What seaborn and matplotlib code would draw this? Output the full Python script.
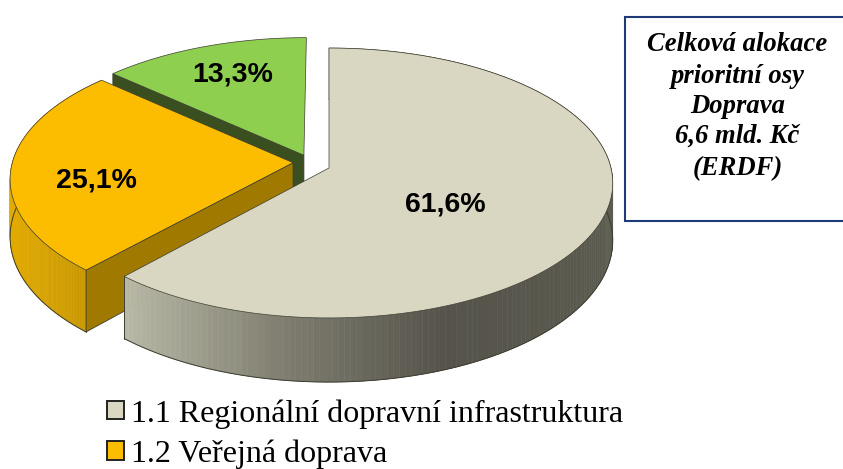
import numpy as np
import matplotlib.pyplot as plt
from matplotlib.patches import Patch, Rectangle
import seaborn as sns

# values
labels = ["1.1 Regionální dopravní infrastruktura", "1.2 Veřejná doprava", "1.3 Ostatní"]
shares = [61.6, 25.1, 13.3]
top_colors = ["#d9d6c2", "#fcbc00", "#8fcf50"]
cut_colors = ["#8f8d7c", "#a07a00", "#3a4f20"]
wall_stops = [["#b8b8a6", "#7e7d6f", "#55534a", "#5c5b50"],
              ["#e2ab00", "#c99800"],
              ["#3a4f20", "#3a4f20"]]
box_text = "Celková alokace\nprioritní osy\nDoprava\n6,6 mld. Kč\n(ERDF)"

sns.set_theme(style="white")

fig = plt.figure(figsize=(8.43, 4.69), dpi=100)
ax = fig.add_axes([0, 0, 1, 1])
ax.set_xlim(0, 843)
ax.set_ylim(469, 0)
ax.axis("off")

# perspective of the pie plane, pixels
cx, cy = 329, 168
rx, ry, persp, depth = 282, 133.3, 0.111, 57
# how far each slice is pulled out of the pie (u, v in the plane)
offsets = [(0, 0), (-0.128, -0.04), (-0.09, -0.097)]


def project(u, v):
    den = 1 - persp * v
    return cx + rx * u / den, cy + ry * v / den


def wall_height(v):
    return depth / (1 - persp * v)


def draw_slice(i, start, end):
    du, dv = offsets[i]
    th = np.radians(np.linspace(start, end, 200))
    u = np.sin(th) + du
    v = -np.cos(th) + dv
    x, y = project(u, v)
    ax0, ay0 = project(du, dv)
    h = wall_height(v)
    edge = "#3c3c30"
    base = i * -10

    # outer wall, shaded left to right (the green slice faces away)
    if i != 2:
        pal = sns.blend_palette(wall_stops[i], 100)
        left, right = x.min(), x.max()
        if i == 1:
            right = x[0]
        for k in range(len(th) - 1):
            frac = (x[k] - left) / (right - left)
            col = pal[int(np.clip(frac, 0, 0.999) * 100)]
            ax.fill([x[k], x[k + 1], x[k + 1], x[k]],
                    [y[k], y[k + 1], y[k + 1] + h[k + 1], y[k] + h[k]],
                    color=col, lw=0.4, zorder=base + 1)
        ax.plot(x, y + h, color=edge, lw=0.7, zorder=base + 2)
        # the visible corner of the wall: start of orange, end of beige
        j = 0 if i == 1 else -1
        ax.plot([x[j], x[j]], [y[j], y[j] + h[j]], color=edge, lw=0.7, zorder=base + 2)

    # face of the cut on the start side, beige has none in view
    if i != 0:
        h0 = wall_height(dv)
        ax.fill([ax0, x[0], x[0], ax0], [ay0, y[0], y[0] + h[0], ay0 + h0],
                color=cut_colors[i], ec=edge, lw=0.6, zorder=base + 3)

    # top face
    ax.fill(np.r_[ax0, x], np.r_[ay0, y], color=top_colors[i], ec=edge, lw=0.5,
            zorder=base + 4)


bounds = np.cumsum([0] + shares) / sum(shares) * 360
for i in [2, 1, 0]:
    draw_slice(i, bounds[i], bounds[i + 1])

# percent labels
label_pos = [(445, 205), (96.5, 180), (232.5, 74.5)]
for val, (lx, ly) in zip(shares, label_pos):
    ax.text(lx, ly, f"{val:.1f}%".replace(".", ","), ha="center", va="center",
            fontsize=20.5, fontweight="bold", family="Liberation Sans", color="black", zorder=5)

# box on the right, runs off the edge
ax.add_patch(Rectangle((624.5, 17), 240, 204, fc="white", ec="#1f3a78", lw=1.5, zorder=5))
for line, ly in zip(box_text.split("\n"), [51, 83, 113, 143, 175]):
    ax.text(737.5, ly, line, ha="center", va="baseline", fontsize=19.2, fontweight="bold",
            style="italic", family="Liberation Serif", color="black", zorder=6)

# legend, third entry falls outside the picture in the source
handles = [Patch(fc=c, ec="#222222", lw=1.4) for c in top_colors[:2]]
ax.legend(handles, labels[:2], loc="upper left", bbox_to_anchor=(107 / 843, 1 - 399 / 469),
          frameon=False, prop={"family": "Liberation Serif", "size": 23}, labelcolor="black",
          handlelength=0.52, handleheight=0.52, handletextpad=0.22, labelspacing=0.34,
          borderpad=0, borderaxespad=0)

fig.savefig("out.png", dpi=100)
plt.close(fig)
